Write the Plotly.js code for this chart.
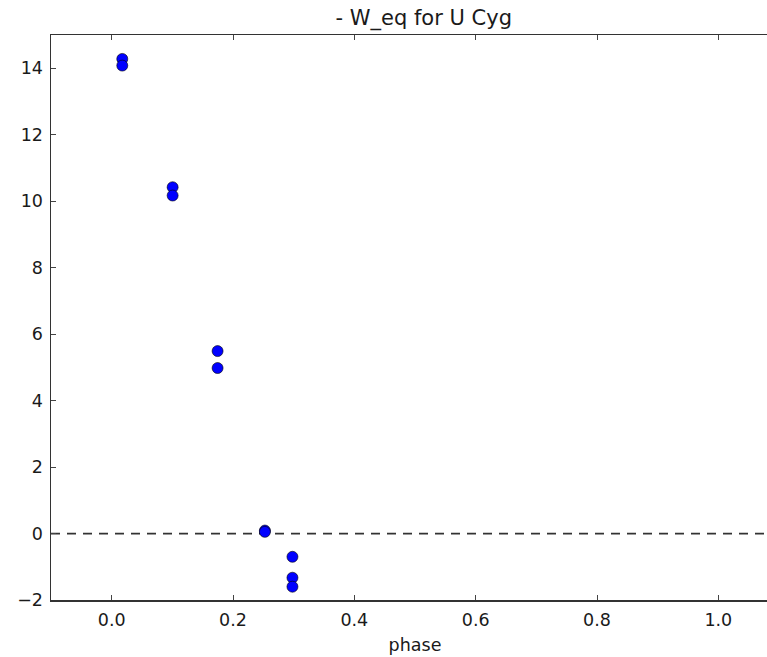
<!DOCTYPE html>
<html>
<head>
<meta charset="utf-8">
<script src="https://cdn.plot.ly/plotly-3.0.1.min.js"></script>
<style>
html,body{margin:0;padding:0;overflow:hidden;background:#fff;width:767px;height:657px;}
#plot{width:790px;height:657px;}
</style>
</head>
<body>
<div id="plot"></div>
<script>
const phase = [0.0175, 0.0175, 0.1005, 0.1005, 0.1746, 0.1746, 0.2526, 0.2526, 0.298, 0.298, 0.298];
const weq   = [14.28, 14.08, 10.42, 10.17, 5.49, 4.98, 0.09, 0.05, -0.70, -1.33, -1.60];
const xTicks = [0.0, 0.2, 0.4, 0.6, 0.8, 1.0];
const yTicks = [-2, 0, 2, 4, 6, 8, 10, 12, 14];

const font = {family: 'DejaVu Sans, sans-serif', size: 17.5, color: '#1a1a1a'};

Plotly.newPlot('plot', [{
  x: phase, y: weq, type: 'scatter', mode: 'markers',
  marker: {color: '#0000ff', size: 11, line: {color: '#000', width: 0.6}},
  hoverinfo: 'none', showlegend: false
}], {
  width: 790, height: 657,
  margin: {l: 51, r: 11, t: 35, b: 57},
  paper_bgcolor: '#fff', plot_bgcolor: '#fff',
  font: font,
  title: {text: '- W_eq for U Cyg', font: {family: 'DejaVu Sans, sans-serif', size: 21, color: '#1a1a1a'},
          x: 0.512, xref: 'paper', y: 1 - 18/657, yref: 'container', yanchor: 'middle'},
  xaxis: {range: [-0.1, 1.1], tickvals: xTicks, ticktext: xTicks.map(v => v.toFixed(1)),
          ticks: 'inside', ticklen: 5, tickcolor: '#444', showline: true, linecolor: '#333', linewidth: 1.5,
          mirror: 'ticks', showgrid: false, zeroline: false, ticklabelstandoff: 3,
          title: {text: 'phase', font: font, standoff: 10}, tickfont: font},
  yaxis: {range: [-2, 15], tickvals: yTicks, ticks: 'inside', ticklen: 5, tickcolor: '#444',
          showline: true, linecolor: '#333', linewidth: 1.5, mirror: false,
          showgrid: false, zeroline: false, tickfont: font, ticklabelstandoff: 3},
  shapes: [{type: 'line', xref: 'paper', x0: 0, x1: 1, yref: 'y', y0: 0, y1: 0,
            line: {color: '#333', width: 1.8, dash: '9px,7px'}, layer: 'below'}]
}, {staticPlot: true});
</script>
</body>
</html>
